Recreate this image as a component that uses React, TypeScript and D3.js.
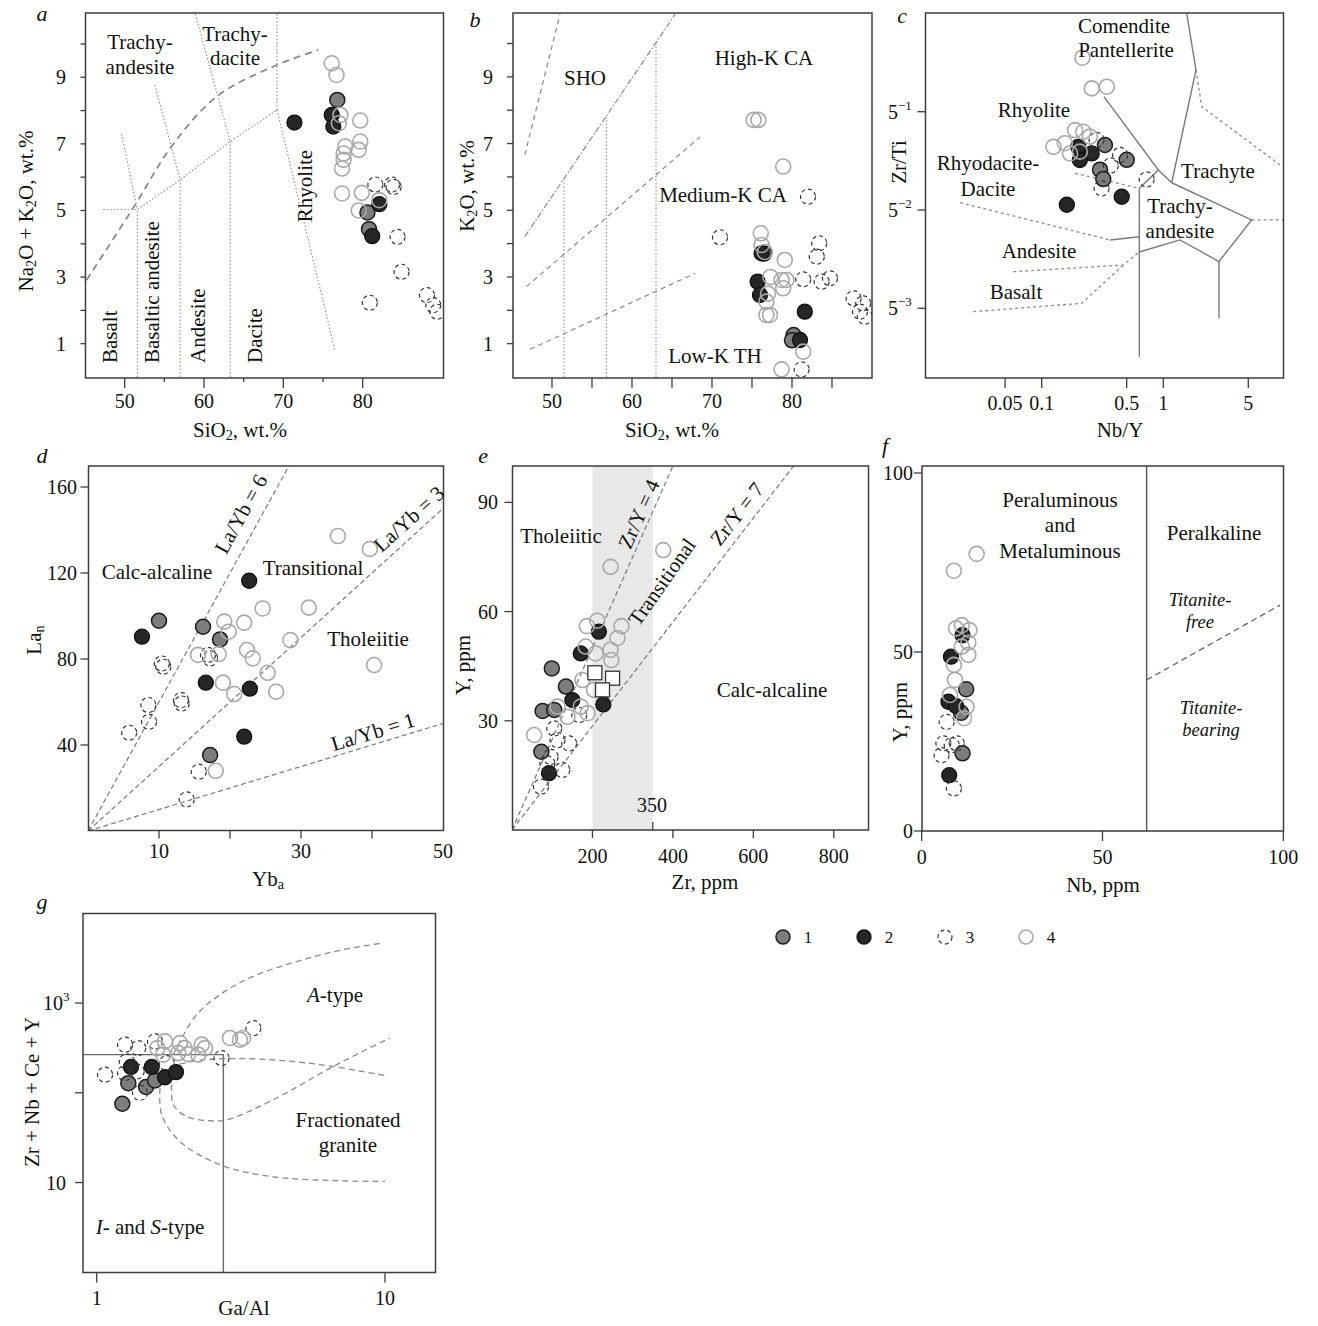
import React from 'react';
import * as d3 from 'd3';

type P = [number, number, number]; // x, y, group (1..4), 5 = square
type XY = [number, number];

// ---------- Panel a: TAS (SiO2 vs Na2O+K2O) ----------
const aPoints: P[] = [
  [76.1, 9.42, 4], [76.7, 9.07, 4], [77.2, 7.87, 4], [77.0, 7.62, 4], [79.7, 7.7, 4], [79.7, 7.07, 4],
  [79.5, 6.82, 4], [77.8, 6.92, 4], [77.6, 6.71, 4], [77.6, 6.52, 4], [77.4, 6.26, 4], [77.4, 5.51, 4],
  [79.9, 5.53, 4], [79.5, 5.0, 4], [82.1, 5.31, 4],
  [76.8, 8.32, 1], [80.6, 4.94, 1], [80.8, 4.44, 1],
  [71.4, 7.64, 2], [76.1, 7.87, 2], [76.3, 7.52, 2], [82.1, 5.19, 2], [81.2, 4.23, 2],
  [81.6, 5.78, 3], [83.7, 5.78, 3], [83.9, 5.71, 3], [84.4, 4.21, 3], [84.9, 3.16, 3], [80.9, 2.23, 3],
  [88.1, 2.46, 3], [88.9, 2.16, 3], [89.4, 1.96, 3],
];
const aAlkCurve: XY[] = [[45.2, 2.91], [51.3, 5.16], [55.9, 6.92], [61.6, 8.42], [69.2, 9.37], [74.4, 9.82]];
const aFieldLines: XY[][] = [
  [[47.3, 5.03], [51.6, 5.03]],
  [[51.6, 0], [51.6, 5.03], [57.0, 5.92], [63.3, 7.07], [69.2, 8.02]],
  [[57.0, 0], [57.0, 5.92]],
  [[63.3, 0], [63.3, 7.07]],
  [[69.2, 8.02], [69.2, 10.9]],
  [[69.2, 8.02], [76.5, 0.81]],
  [[49.6, 7.3], [51.6, 5.03]],
  [[53.8, 8.77], [57.0, 5.92]],
  [[58.9, 10.9], [63.3, 7.07]],
];
const aXMajor = [50, 60, 70, 80];
const aXMinor = [55, 65, 75];
const aYTicks = [1, 2, 3, 4, 5, 6, 7, 8, 9, 10];
const aYLabels = [1, 3, 5, 7, 9];

// ---------- Panel b: SiO2 vs K2O ----------
const bPoints: P[] = [
  [75.2, 7.71, 4], [75.8, 7.71, 4], [78.9, 6.31, 4], [76.1, 4.31, 4], [76.2, 3.96, 4], [79.1, 3.51, 4],
  [77.3, 3.0, 4], [78.7, 2.91, 4], [79.3, 2.91, 4], [78.9, 2.66, 4], [76.8, 2.26, 4], [76.8, 1.86, 4],
  [77.25, 1.86, 4], [81.4, 0.76, 4], [78.7, 0.23, 4], [76.6, 3.75, 4], [77.0, 2.5, 4],
  [82.0, 5.41, 3], [71.0, 4.19, 3], [83.4, 4.01, 3], [83.1, 3.61, 3], [81.4, 2.93, 3], [83.7, 2.86, 3],
  [84.75, 2.96, 3], [87.7, 2.36, 3], [88.9, 2.21, 3], [88.5, 1.96, 3], [89.1, 1.81, 3], [81.2, 0.23, 3],
  [76.2, 3.71, 2], [75.7, 2.86, 2], [76.0, 2.46, 2], [81.6, 1.96, 2], [81.0, 1.11, 2],
  [76.5, 3.7, 1], [80.2, 1.26, 1], [80.0, 1.1, 1],
];
const bDashed: XY[][] = [
  [[46.6, 6.66], [51.0, 10.88]],
  [[46.8, 2.71], [68.5, 7.2]],
  [[47.25, 0.83], [67.9, 3.11]],
];
const bDashDot: XY[] = [[46.6, 4.21], [65.4, 10.88]];
const bVerticals: XY[][] = [
  [[51.5, 0], [51.5, 5.91]],
  [[56.8, 0], [56.8, 7.8]],
  [[63.0, 0], [63.0, 10.0]],
];
const bXTicks = [50, 55, 60, 65, 70, 75, 80, 85];
const bXLabels = [50, 60, 70, 80];
const bYTicks = [1, 2, 3, 4, 5, 6, 7, 8, 9, 10];
const bYLabels = [1, 3, 5, 7, 9];

// ---------- Panel c: Nb/Y vs Zr/Ti ----------
const cPoints: P[] = [
  [0.216, 0.484, 4], [0.258, 0.293, 4], [0.343, 0.301, 4], [0.125, 0.1125, 4], [0.155, 0.1194, 4],
  [0.188, 0.148, 4], [0.22, 0.144, 4], [0.249, 0.133, 4], [0.171, 0.101, 4], [0.206, 0.104, 4],
  [0.2, 0.1125, 2], [0.206, 0.0907, 2], [0.258, 0.101, 2], [0.161, 0.0436, 2], [0.455, 0.0497, 2],
  [0.331, 0.116, 1], [0.5, 0.091, 1], [0.302, 0.0774, 1], [0.321, 0.0664, 1],
  [0.441, 0.0985, 3], [0.311, 0.057, 3], [0.73, 0.066, 3], [0.283, 0.126, 3], [0.37, 0.083, 3],
];
const cSolid: XY[][] = [
  [[0.325, 0.256], [0.91, 0.077], [1.172, 0.0625]],
  [[1.557, 1.0], [1.857, 0.396], [1.172, 0.0625]],
  [[1.172, 0.0625], [5.33, 0.034], [2.87, 0.0172], [1.371, 0.0245], [0.643, 0.0202]],
  [[2.87, 0.0172], [2.87, 0.0068]],
  [[0.635, 0.0571], [0.635, 0.00362]],
  [[0.635, 0.0571], [0.91, 0.077]],
  [[0.365, 0.0245], [0.635, 0.0258]],
];
const cDotted: XY[][] = [
  [[0.0213, 0.0451], [0.365, 0.0245]],
  [[0.188, 0.0729], [0.635, 0.0571]],
  [[0.0584, 0.01456], [0.469, 0.01626], [0.635, 0.0202]],
  [[0.0274, 0.00757], [0.213, 0.00868], [0.469, 0.01626]],
  [[1.857, 0.396], [2.07, 0.217], [9.12, 0.0836]],
  [[5.33, 0.034], [9.65, 0.034]],
];
const cXTicks = [0.05, 0.1, 0.5, 1, 5];
const cXLabels = ['0.05', '0.1', '0.5', '1', '5'];
const cYTicks = [0.2, 0.04, 0.008];
const cYExp = ['−1', '−2', '−3'];

// ---------- Panel d: Yb vs La ----------
const dPoints: P[] = [
  [35.2, 137.2, 4], [39.7, 131.2, 4], [24.6, 103.5, 4], [31.1, 103.9, 4], [19.2, 97.4, 4], [22.0, 96.9, 4],
  [19.8, 92.7, 4], [28.5, 88.8, 4], [22.4, 84.2, 4], [23.2, 80.3, 4], [15.5, 81.9, 4], [18.4, 82.3, 4],
  [40.3, 77.2, 4], [25.3, 73.6, 4], [19.0, 69.0, 4], [26.5, 64.8, 4], [20.6, 63.7, 4], [18.0, 28.0, 4],
  [10.0, 97.8, 1], [16.2, 95.0, 1], [18.6, 89.1, 1], [17.2, 35.3, 1],
  [22.7, 116.4, 2], [7.6, 90.4, 2], [16.6, 69.0, 2], [22.8, 66.2, 2], [22.0, 43.9, 2],
  [16.9, 81.9, 3], [17.2, 80.3, 3], [10.4, 77.9, 3], [10.6, 76.4, 3], [13.1, 60.9, 3], [13.2, 59.3, 3],
  [8.5, 58.6, 3], [8.6, 50.8, 3], [5.8, 45.7, 3], [15.6, 27.6, 3], [13.9, 14.7, 3],
];
const dRatios = [6, 3, 1];
const dXTicks = [10, 20, 30, 40];
const dXLabels = [10, 30, 50];
const dYTicks = [40, 80, 120, 160];

// ---------- Panel e: Zr vs Y ----------
const ePoints: P[] = [
  [376, 76.9, 4], [245, 72.3, 4], [212, 57.5, 4], [186, 56.0, 4], [272, 56.0, 4], [262, 52.7, 4],
  [245, 49.5, 4], [247, 46.7, 4], [208, 48.5, 4], [183, 50.4, 4], [175, 41.2, 4], [204, 38.5, 4],
  [171, 33.9, 4], [188, 32.1, 4], [113, 33.9, 4], [55, 26.1, 4], [138, 31.1, 4],
  [216, 54.5, 2], [171, 48.5, 2], [150, 35.7, 2], [227, 34.5, 2], [92, 15.6, 2],
  [99, 44.4, 1], [134, 39.4, 1], [76, 32.7, 1], [105, 33.0, 1], [73, 21.5, 1],
  [105, 27.9, 3], [142, 23.8, 3], [113, 24.7, 3], [96, 20.1, 3], [72, 11.9, 3], [167, 31.6, 3],
  [125, 16.5, 3], [88, 18.3, 3],
  [206, 43.2, 5], [250, 41.7, 5], [225, 38.5, 5],
];
const eRatios = [4, 7];
const eBand: XY = [200, 350];
const eXTicks = [200, 400, 600, 800];
const eYTicks = [30, 60, 90];

// ---------- Panel f: Nb vs Y ----------
const fPoints: P[] = [
  [15.2, 77.4, 4], [8.9, 72.7, 4], [9.5, 56.6, 4], [11.1, 57.5, 4], [13.2, 56.1, 4], [12.9, 52.6, 4],
  [11.1, 51.5, 4], [12.9, 49.2, 4], [8.9, 46.4, 4], [9.2, 42.2, 4], [7.8, 38.0, 4], [11.7, 31.5, 4],
  [12.4, 34.7, 4],
  [11.3, 54.7, 2], [8.1, 48.7, 2], [7.4, 36.1, 2], [9.5, 34.9, 2], [7.6, 15.6, 2],
  [12.3, 39.6, 1], [10.9, 33.0, 1], [11.3, 21.7, 1],
  [6.9, 30.5, 3], [6.0, 24.5, 3], [8.3, 24.0, 3], [5.5, 21.2, 3], [9.7, 24.5, 3], [8.9, 11.9, 3],
];
const fDivide = 62.2;
const fTitanite: XY[] = [[62.2, 42.2], [99.1, 63.1]];
const fXTicks = [0, 50, 100];
const fYTicks = [0, 50, 100];

// ---------- Panel g: Ga/Al vs Zr+Nb+Ce+Y ----------
const gPoints: P[] = [
  [1.725, 374, 4], [1.945, 358, 4], [1.919, 277, 4], [2.078, 270, 4], [2.313, 344, 4], [2.375, 315, 4],
  [2.25, 266, 4], [2.9, 408, 4], [3.14, 391, 4], [3.22, 408, 4], [1.623, 315, 4], [1.7, 266, 4], [2.02, 315, 4],
  [1.254, 344, 3], [1.394, 315, 3], [1.593, 374, 3], [1.069, 159, 3], [1.271, 224, 3], [1.376, 173, 3],
  [1.75, 214, 3], [3.494, 526, 3], [2.71, 244, 3], [1.413, 100, 3], [1.254, 166, 3],
  [1.315, 194, 2], [1.552, 194, 2], [1.725, 149, 2], [1.884, 170, 2],
  [1.287, 128, 1], [1.483, 116, 1], [1.593, 137, 1], [1.227, 75.5, 1],
];
const gBox: XY[] = [[0.89, 266], [2.75, 266], [2.75, 1]];
const gCurves: XY[][] = [
  [[1.844, 266], [1.945, 374], [2.223, 743], [2.677, 1241], [3.494, 1986], [5.207, 3048], [7.168, 3940], [9.865, 4670]],
  [[1.796, 197], [2.223, 228], [2.75, 240], [3.99, 234], [5.95, 206], [10.0, 156]],
  [[1.82, 123], [1.844, 73.6], [2.052, 54.5], [2.472, 48.8], [2.825, 50.1], [3.99, 80.2], [6.8, 206], [10.4, 408]],
  [[1.658, 113], [1.68, 57.0], [1.945, 28.7], [2.677, 15.8], [3.99, 11.7], [6.8, 10.5], [10.0, 10.3]],
];
const gXTicks = [1, 10];
const gYTicks = [10, 100, 1000];

const legendItems = [1, 2, 3, 4];

// ---------- drawing helpers ----------
const FONT = '"Liberation Serif", "Times New Roman", Times, serif';
const FRAME = '#3d3d3d';
const TICK = '#3d3d3d';
const LS = 21; // label size
const TS = 20; // tick size

function Marker({ cx, cy, t, r = 7.5 }: { cx: number; cy: number; t: number; r?: number }) {
  if (t === 1) return <circle cx={cx} cy={cy} r={r} fill="#7d7d7d" stroke="#1c1c1c" strokeWidth={1.5} />;
  if (t === 2) return <circle cx={cx} cy={cy} r={r} fill="#262626" stroke="#111" strokeWidth={1.3} />;
  if (t === 3) return <circle cx={cx} cy={cy} r={r} fill="none" stroke="#333" strokeWidth={1.2} strokeDasharray="4,3" />;
  if (t === 4) return <circle cx={cx} cy={cy} r={r} fill="none" stroke="#a9a9a9" strokeWidth={1.6} />;
  return <rect x={cx - 7} y={cy - 7} width={14} height={14} fill="#fff" stroke="#333" strokeWidth={1.3} />;
}

const ORDER = [1, 2, 3, 4, 5];
function Points({ data, xs, ys }: { data: P[]; xs: any; ys: any }) {
  const sorted = [...data].sort((a, b) => ORDER.indexOf(a[2]) - ORDER.indexOf(b[2]));
  return (
    <g>
      {sorted.map((p, i) => (
        <Marker key={i} cx={xs(p[0])} cy={ys(p[1])} t={p[2]} />
      ))}
    </g>
  );
}

function Poly({ pts, xs, ys, curve, ...style }: any) {
  const gen = d3.line<XY>().x((d) => xs(d[0])).y((d) => ys(d[1]));
  if (curve) gen.curve(d3.curveCatmullRom.alpha(0.5));
  return <path d={gen(pts) || ''} fill="none" {...style} />;
}

function T({ x, y, rot = 0, size = LS, anchor = 'middle', italic = false, children }: any) {
  return (
    <text
      transform={`translate(${x},${y}) rotate(${rot})`}
      textAnchor={anchor}
      dominantBaseline="central"
      fontSize={size}
      fontStyle={italic ? 'italic' : 'normal'}
      fill="#111"
    >
      {children}
    </text>
  );
}

function Sub({ children }: any) {
  return (
    <tspan dy={5} fontSize="0.68em">
      {children}
    </tspan>
  );
}
function Back({ children }: any) {
  return <tspan dy={-5}>{children}</tspan>;
}

function Frame({ f, id }: { f: number[]; id: string }) {
  return (
    <defs>
      <clipPath id={id}>
        <rect x={f[0]} y={f[1]} width={f[2] - f[0]} height={f[3] - f[1]} />
      </clipPath>
    </defs>
  );
}
function Border({ f }: { f: number[] }) {
  return <rect x={f[0]} y={f[1]} width={f[2] - f[0]} height={f[3] - f[1]} fill="none" stroke={FRAME} strokeWidth={1.5} />;
}

function XTicks({ vals, xs, y, len = 10 }: any) {
  return (
    <g stroke={TICK} strokeWidth={1.3}>
      {vals.map((v: number, i: number) => (
        <line key={i} x1={xs(v)} x2={xs(v)} y1={y} y2={y + len} />
      ))}
    </g>
  );
}
function YTicks({ vals, ys, x, len = 7 }: any) {
  return (
    <g stroke={TICK} strokeWidth={1.3}>
      {vals.map((v: number, i: number) => (
        <line key={i} x1={x} x2={x - len} y1={ys(v)} y2={ys(v)} />
      ))}
    </g>
  );
}

const dotted = { stroke: '#8c8c8c', strokeWidth: 1.1, strokeDasharray: '1.5,2' };
const solid = { stroke: '#7a7a7a', strokeWidth: 1.4 };

export default function App() {
  const aX = d3.scaleLinear().domain([45, 90]).range([85, 442]);
  const aY = d3.scaleLinear().domain([0, 10.9]).range([377, 14]);
  const aF = [85.5, 13, 443.5, 378];

  const bX = d3.scaleLinear().domain([45, 90]).range([512, 872]);
  const bY = d3.scaleLinear().domain([0, 10.9]).range([377, 13.5]);
  const bF = [513, 13, 872, 378];

  const cX = d3.scaleLog().domain([0.1, 1]).range([1041.7, 1163.3]);
  const cY = d3.scaleLog().domain([0.2, 0.008]).range([111.7, 308.3]);
  const cF = [925.5, 13, 1283.5, 378];

  const dX = d3.scaleLinear().domain([0, 50]).range([88, 443]);
  const dY = d3.scaleLinear().domain([0, 170]).range([831, 465.5]);
  const dF = [88.5, 466, 443.5, 830.5];

  const eX = d3.scaleLinear().domain([0, 885]).range([512, 868]);
  const eY = d3.scaleLinear().domain([0, 100]).range([830, 466]);
  const eF = [512.5, 466, 868.5, 830];

  const fX = d3.scaleLinear().domain([0, 100]).range([921.7, 1283.3]);
  const fY = d3.scaleLinear().domain([0, 100]).range([831, 473]);
  const fF = [922, 466, 1283.5, 831];

  const gX = d3.scaleLog().domain([1, 10]).range([96.7, 385]);
  const gY = d3.scaleLog().domain([1, 10000]).range([1272.3, 913.3]);
  const gF = [83, 913.5, 435.5, 1272.5];

  const dLines: XY[][] = dRatios.map((k) => {
    const xe = Math.min(50, 170 / k);
    return [[0, 0], [xe, k * xe]];
  });
  const eLines: XY[][] = eRatios.map((k) => {
    const xe = Math.min(885, 100 * k);
    return [[0, 0], [xe, xe / k]];
  });

  const fTop = fY.invert(fF[1]);

  return (
    <svg
      width={1318}
      height={1326}
      style={{ position: 'absolute', left: 0, top: 0, background: '#fff' }}
      fontFamily={FONT}
    >
      <rect x={0} y={0} width={1318} height={1326} fill="#fff" />

      {/* ================= a ================= */}
      <Frame f={aF} id="ca" />
      <g clipPath="url(#ca)">
        {aFieldLines.map((l, i) => (
          <Poly key={i} pts={l} xs={aX} ys={aY} {...dotted} />
        ))}
        <Poly pts={aAlkCurve} xs={aX} ys={aY} curve stroke="#858585" strokeWidth={1.7} strokeDasharray="7,5" />
        <Points data={aPoints} xs={aX} ys={aY} />
      </g>
      <Border f={aF} />
      <XTicks vals={aXMajor} xs={aX} y={aF[3]} len={10} />
      <XTicks vals={aXMinor} xs={aX} y={aF[3]} len={4} />
      <YTicks vals={aYTicks} ys={aY} x={aF[0]} len={5} />
      {aXMajor.map((v) => (
        <T key={v} x={aX(v)} y={401} size={TS}>{v}</T>
      ))}
      {aYLabels.map((v) => (
        <T key={v} x={66} y={aY(v)} size={TS} anchor="end">{v}</T>
      ))}
      <T x={42} y={13} italic size={22}>a</T>
      <T x={140} y={42}>Trachy-</T>
      <T x={140} y={67}>andesite</T>
      <T x={235} y={34}>Trachy-</T>
      <T x={235} y={58}>dacite</T>
      <T x={305} y={186} rot={-90}>Rhyolite</T>
      <T x={110} y={363} rot={-90} anchor="start">Basalt</T>
      <T x={152} y={363} rot={-90} anchor="start">Basaltic andesite</T>
      <T x={198} y={363} rot={-90} anchor="start">Andesite</T>
      <T x={255} y={363} rot={-90} anchor="start">Dacite</T>
      <T x={26} y={211} rot={-90}>
        Na<Sub>2</Sub><Back>O + K</Back><Sub>2</Sub><Back>O, wt.%</Back>
      </T>
      <T x={240} y={430}>
        SiO<Sub>2</Sub><Back>, wt.%</Back>
      </T>

      {/* ================= b ================= */}
      <Frame f={bF} id="cb" />
      <g clipPath="url(#cb)">
        {bVerticals.map((l, i) => (
          <Poly key={i} pts={l} xs={bX} ys={bY} {...dotted} />
        ))}
        {bDashed.map((l, i) => (
          <Poly key={i} pts={l} xs={bX} ys={bY} stroke="#8a8a8a" strokeWidth={1.2} strokeDasharray="5,4" />
        ))}
        <Poly pts={bDashDot} xs={bX} ys={bY} stroke="#8a8a8a" strokeWidth={1.2} strokeDasharray="6,2,1.5,2" />
        <Points data={bPoints} xs={bX} ys={bY} />
      </g>
      <Border f={bF} />
      <XTicks vals={bXTicks} xs={bX} y={bF[3]} len={10} />
      <YTicks vals={bYTicks} ys={bY} x={bF[0]} len={6} />
      {bXLabels.map((v) => (
        <T key={v} x={bX(v)} y={401} size={TS}>{v}</T>
      ))}
      {bYLabels.map((v) => (
        <T key={v} x={493} y={bY(v)} size={TS} anchor="end">{v}</T>
      ))}
      <T x={475} y={19} italic size={22}>b</T>
      <T x={585} y={78}>SHO</T>
      <T x={764} y={58}>High-K CA</T>
      <T x={723} y={195}>Medium-K CA</T>
      <T x={715} y={356}>Low-K TH</T>
      <T x={467} y={186} rot={-90}>
        K<Sub>2</Sub><Back>O, wt.%</Back>
      </T>
      <T x={672} y={430}>
        SiO<Sub>2</Sub><Back>, wt.%</Back>
      </T>

      {/* ================= c ================= */}
      <Frame f={cF} id="cc" />
      <g clipPath="url(#cc)">
        {cDotted.map((l, i) => (
          <Poly key={i} pts={l} xs={cX} ys={cY} stroke="#8c8c8c" strokeWidth={1.3} strokeDasharray="3,3" />
        ))}
        {cSolid.map((l, i) => (
          <Poly key={i} pts={l} xs={cX} ys={cY} {...solid} />
        ))}
        <Points data={cPoints} xs={cX} ys={cY} />
      </g>
      <Border f={cF} />
      <XTicks vals={cXTicks} xs={cX} y={cF[3]} len={10} />
      <YTicks vals={cYTicks} ys={cY} x={cF[0]} len={8} />
      {cXTicks.map((v, i) => (
        <T key={v} x={cX(v)} y={403} size={TS}>{cXLabels[i]}</T>
      ))}
      {cYTicks.map((v, i) => (
        <text key={v} x={888} y={cY(v) + 7} fontSize={TS} fill="#111" textAnchor="start">
          5<tspan dy={-9} fontSize={13}>{cYExp[i]}</tspan>
        </text>
      ))}
      <T x={902} y={15} italic size={22}>c</T>
      <T x={1124} y={26}>Comendite</T>
      <T x={1126} y={50}>Pantellerite</T>
      <T x={1034} y={110}>Rhyolite</T>
      <T x={988} y={163}>Rhyodacite-</T>
      <T x={988} y={189}>Dacite</T>
      <T x={1218} y={171}>Trachyte</T>
      <T x={1180} y={206}>Trachy-</T>
      <T x={1180} y={231}>andesite</T>
      <T x={1039} y={251}>Andesite</T>
      <T x={1016} y={292}>Basalt</T>
      <T x={899} y={162} rot={-90}>Zr/Ti</T>
      <T x={1120} y={430}>Nb/Y</T>

      {/* ================= d ================= */}
      <Frame f={dF} id="cd" />
      <g clipPath="url(#cd)">
        {dLines.map((l, i) => (
          <Poly key={i} pts={l} xs={dX} ys={dY} stroke="#7a7a7a" strokeWidth={1.2} strokeDasharray="5,3" />
        ))}
        <Points data={dPoints} xs={dX} ys={dY} />
      </g>
      <Border f={dF} />
      <XTicks vals={dXTicks} xs={dX} y={dF[3]} len={8} />
      <YTicks vals={dYTicks} ys={dY} x={dF[0]} len={8} />
      {dXLabels.map((v) => (
        <T key={v} x={dX(v)} y={851} size={TS}>{v}</T>
      ))}
      {dYTicks.map((v) => (
        <T key={v} x={77} y={dY(v)} size={TS} anchor="end">{v}</T>
      ))}
      <T x={42} y={455} italic size={22}>d</T>
      <T x={157} y={572}>Calc-alcaline</T>
      <T x={313} y={568}>Transitional</T>
      <T x={368} y={639}>Tholeiitie</T>
      <T x={241} y={514} rot={-61}>La/Yb = 6</T>
      <T x={409} y={519} rot={-42}>La/Yb = 3</T>
      <T x={373} y={732} rot={-17}>La/Yb = 1</T>
      <T x={34} y={640} rot={-90}>
        La<Sub>n</Sub>
      </T>
      <T x={268} y={879}>
        Yb<Sub>a</Sub>
      </T>

      {/* ================= e ================= */}
      <Frame f={eF} id="ce" />
      <g clipPath="url(#ce)">
        <rect x={eX(eBand[0])} y={eF[1]} width={eX(eBand[1]) - eX(eBand[0])} height={eF[3] - eF[1]} fill="#e8e8e8" />
        {eLines.map((l, i) => (
          <Poly key={i} pts={l} xs={eX} ys={eY} stroke="#7a7a7a" strokeWidth={1.2} strokeDasharray="5,3" />
        ))}
        <Points data={ePoints} xs={eX} ys={eY} />
        <line x1={eX(350)} x2={eX(350)} y1={eF[3]} y2={eF[3] - 8} stroke={TICK} strokeWidth={1.2} />
      </g>
      <Border f={eF} />
      <XTicks vals={eXTicks} xs={eX} y={eF[3]} len={8} />
      <YTicks vals={eYTicks} ys={eY} x={eF[0]} len={8} />
      {eXTicks.map((v) => (
        <T key={v} x={eX(v)} y={856} size={TS}>{v}</T>
      ))}
      {eYTicks.map((v) => (
        <T key={v} x={498} y={eY(v)} size={TS} anchor="end">{v}</T>
      ))}
      <T x={483} y={455} italic size={22}>e</T>
      <T x={561} y={536}>Tholeiitic</T>
      <T x={772} y={690}>Calc-alcaline</T>
      <T x={652} y={805} size={TS}>350</T>
      <T x={639} y={514} rot={-66}>Zr/Y = 4</T>
      <T x={662} y={582} rot={-55}>Transitional</T>
      <T x={737} y={514} rot={-52}>Zr/Y = 7</T>
      <T x={463} y={665} rot={-90}>Y, ppm</T>
      <T x={705} y={882}>Zr, ppm</T>

      {/* ================= f ================= */}
      <Frame f={fF} id="cf" />
      <g clipPath="url(#cf)">
        <Poly pts={[[fDivide, 0], [fDivide, fTop]]} xs={fX} ys={fY} stroke="#555" strokeWidth={1.4} />
        <Poly pts={fTitanite} xs={fX} ys={fY} stroke="#666" strokeWidth={1.3} strokeDasharray="6,4" />
        <Points data={fPoints} xs={fX} ys={fY} />
      </g>
      <Border f={fF} />
      <XTicks vals={fXTicks} xs={fX} y={fF[3]} len={10} />
      <YTicks vals={fYTicks} ys={fY} x={fF[0]} len={8} />
      {fXTicks.map((v) => (
        <T key={v} x={fX(v)} y={857} size={TS}>{v}</T>
      ))}
      {fYTicks.map((v) => (
        <T key={v} x={913} y={fY(v)} size={TS} anchor="end">{v}</T>
      ))}
      <T x={885} y={445} italic size={22}>f</T>
      <T x={1060} y={500}>Peraluminous</T>
      <T x={1060} y={525}>and</T>
      <T x={1060} y={551}>Metaluminous</T>
      <T x={1214} y={533}>Peralkaline</T>
      <T x={1200} y={600} italic size={18.5}>Titanite-</T>
      <T x={1200} y={622} italic size={18.5}>free</T>
      <T x={1211} y={708} italic size={18.5}>Titanite-</T>
      <T x={1211} y={730} italic size={18.5}>bearing</T>
      <T x={900} y={712} rot={-90}>Y, ppm</T>
      <T x={1103} y={885}>Nb, ppm</T>

      {/* ================= g ================= */}
      <Frame f={gF} id="cg" />
      <g clipPath="url(#cg)">
        <Poly pts={gBox} xs={gX} ys={gY} stroke="#6a6a6a" strokeWidth={1.4} />
        {gCurves.map((l, i) => (
          <Poly key={i} pts={l} xs={gX} ys={gY} curve stroke="#8a8a8a" strokeWidth={1.3} strokeDasharray="6,4" />
        ))}
        <Points data={gPoints} xs={gX} ys={gY} />
      </g>
      <Border f={gF} />
      <XTicks vals={gXTicks} xs={gX} y={gF[3]} len={10} />
      <YTicks vals={gYTicks} ys={gY} x={gF[0]} len={8} />
      {gXTicks.map((v) => (
        <T key={v} x={gX(v)} y={1298} size={TS}>{v}</T>
      ))}
      <text x={43} y={gY(1000) + 7} fontSize={TS} fill="#111">
        10<tspan dy={-9} fontSize={13}>3</tspan>
      </text>
      <text x={46} y={gY(10) + 7} fontSize={TS} fill="#111">10</text>
      <T x={42} y={901} italic size={22}>g</T>
      <T x={335} y={995}>
        <tspan fontStyle="italic">A</tspan>-type
      </T>
      <T x={348} y={1120}>Fractionated</T>
      <T x={348} y={1145}>granite</T>
      <T x={150} y={1227}>
        <tspan fontStyle="italic">I</tspan>- and <tspan fontStyle="italic">S</tspan>-type
      </T>
      <T x={32} y={1092} rot={-90}>Zr + Nb + Ce + Y</T>
      <T x={244} y={1308}>Ga/Al</T>

      {/* ================= legend ================= */}
      {legendItems.map((t, i) => (
        <g key={t}>
          <Marker cx={783 + i * 81} cy={937} t={t} r={7} />
          <T x={808 + i * 81} y={937} size={17}>{t}</T>
        </g>
      ))}
    </svg>
  );
}
